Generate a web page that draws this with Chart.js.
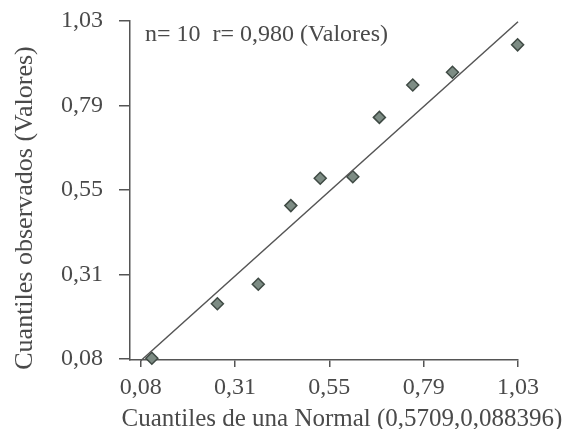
<!DOCTYPE html>
<html>
<head>
<meta charset="utf-8">
<script src="https://cdn.jsdelivr.net/npm/chart.js@4"></script>
<style>
  html, body { margin: 0; padding: 0; background: #fff; }
  #wrap { width: 567px; height: 429px; }
</style>
</head>
<body>
<div id="wrap"><canvas id="lienzo"></canvas></div>
<script>
// Datos del gráfico Q-Q
const cuantilesNormal = [0.108, 0.273, 0.376, 0.458, 0.532, 0.614, 0.681, 0.765, 0.865, 1.029];
const cuantilesObs = [0.082, 0.235, 0.290, 0.511, 0.588, 0.592, 0.759, 0.850, 0.886, 0.963];
const rectaX = [0.08, 1.03];
const rectaY = [0.075, 1.028];
const ticksX = [0.08, 0.3175, 0.555, 0.7925, 1.03];
const ticksY = [0.08, 0.3175, 0.555, 0.7925, 1.03];
const etiquetas = ['0,08', '0,31', '0,55', '0,79', '1,03'];

const tituloX = 'Cuantiles de una Normal (0,5709,0,088396)';
const tituloY = 'Cuantiles observados (Valores)';
const anotacion = 'n= 10  r= 0,980 (Valores)';

const fuente = '"Liberation Serif", "DejaVu Serif", serif';
const gris = '#555';
const texto = '#4a4a4a';

// Textos fijos (titulos y anotación)
const textos = {
  id: 'textos',
  afterDraw(chart) {
    const c = chart.ctx;
    c.save();
    c.fillStyle = texto;
    c.textBaseline = 'alphabetic';
    c.textAlign = 'left';
    c.font = '24px ' + fuente;
    c.fillText(anotacion, 145, 41);
    c.textAlign = 'center';
    c.font = '25px ' + fuente;
    c.fillText(tituloX, 342, 426);
    c.font = '26px ' + fuente;
    c.translate(32, 208);
    c.rotate(-Math.PI / 2);
    c.fillText(tituloY, 0, 0);
    c.restore();
  }
};

const ctx = document.getElementById('lienzo').getContext('2d');
const myChart = new Chart(ctx, {
  data: {
    datasets: [{
      type: 'line',
      data: rectaX.map((x, i) => ({ x: x, y: rectaY[i] })),
      borderColor: '#555',
      borderWidth: 1.5,
      pointRadius: 0,
      fill: false,
      clip: false
    }, {
      type: 'scatter',
      data: cuantilesNormal.map((x, i) => ({ x: x, y: cuantilesObs[i] })),
      pointStyle: 'rectRot',
      pointRadius: 6,
      backgroundColor: '#7d8c84',
      borderColor: '#3f4a44',
      borderWidth: 1.5,
      clip: false
    }]
  },
  options: {
    responsive: true,
    maintainAspectRatio: false,
    animation: false,
    layout: { padding: { top: 21, right: 49, left: 0, bottom: 0 } },
    plugins: { legend: { display: false }, tooltip: { enabled: false } },
    scales: {
      x: {
        type: 'linear',
        min: 0.053,
        max: 1.03,
        afterBuildTicks: s => { s.ticks = ticksX.map(v => ({ value: v })); },
        afterFit: s => { s.height = 69; s.paddingLeft = 0; s.paddingRight = 0; },
        ticks: {
          callback: (v, i) => etiquetas[i],
          font: { family: fuente, size: 24 },
          color: texto,
          padding: 6,
          maxRotation: 0,
          autoSkip: false
        },
        grid: { drawOnChartArea: false, drawTicks: true, tickLength: 7, color: gris, lineWidth: 1.5 },
        border: { display: true, color: gris, width: 1.5 }
      },
      y: {
        type: 'linear',
        min: 0.077,
        max: 1.03,
        afterBuildTicks: s => { s.ticks = ticksY.map(v => ({ value: v })); },
        afterFit: s => { s.width = 130; s.paddingTop = 0; s.paddingBottom = 0; },
        ticks: {
          callback: (v, i) => etiquetas[i],
          font: { family: fuente, size: 24 },
          color: texto,
          padding: 16,
          autoSkip: false
        },
        grid: { drawOnChartArea: false, drawTicks: true, tickLength: 11, color: gris, lineWidth: 1.5 },
        border: { display: true, color: gris, width: 1.5 }
      }
    }
  },
  plugins: [textos]
});
</script>
</body>
</html>
